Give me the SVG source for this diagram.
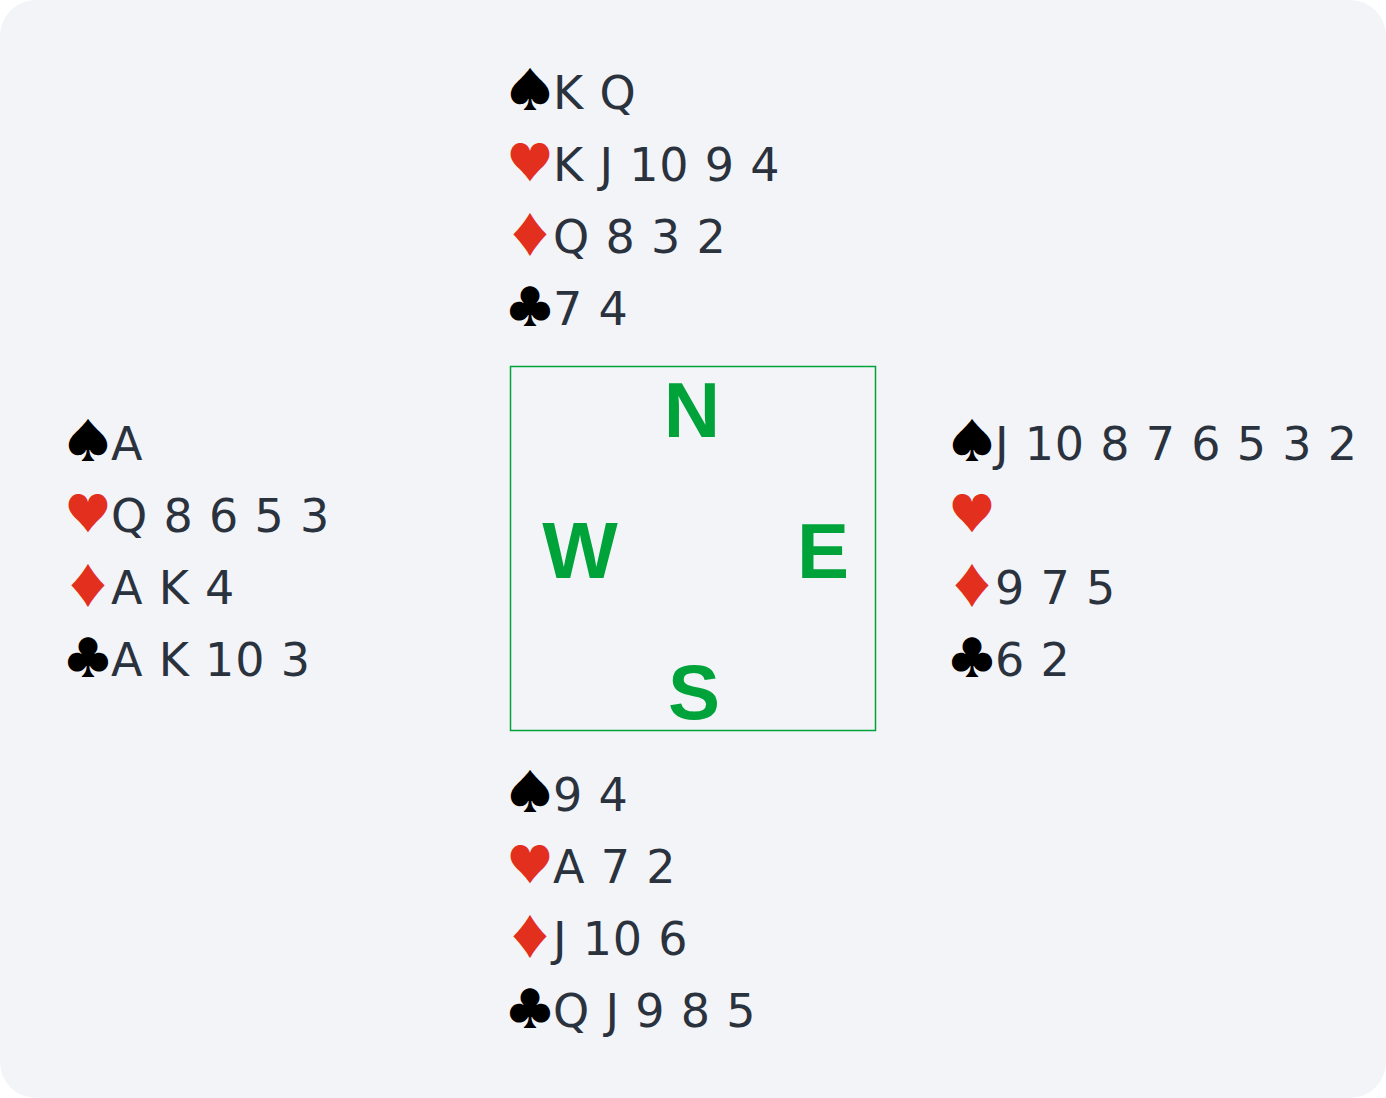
<svg xmlns="http://www.w3.org/2000/svg" width="1386" height="1098" viewBox="0 0 1386 1098">
<style>
.bg{fill:#f3f4f8}
.c{font-family:"DejaVu Sans",sans-serif;font-size:46px;fill:#2a323e;letter-spacing:0.8px}
.s{font-family:"Noto Sans CJK JP","Liberation Sans",sans-serif;font-size:46px;letter-spacing:0}
.blk{fill:#000000}
.red{fill:#e3301e}
.d{font-family:"Liberation Sans",sans-serif;font-weight:bold;font-size:78px;fill:#00a33a;text-anchor:middle}
.box{fill:none;stroke:#00a33a;stroke-width:1.5}
</style>
<rect width="1386" height="1098" fill="#ffffff"/>
<rect class="bg" x="0" y="0" width="1386" height="1098" rx="36" ry="36"/>
<g id="north">
<text class="c" y="109"><tspan class="s blk" x="507" dy="-2">♠</tspan><tspan x="553" dy="2">K Q</tspan></text>
<text class="c" y="181"><tspan class="s red" x="507" dy="-2">♥</tspan><tspan x="553" dy="2">K J 10 9 4</tspan></text>
<text class="c" y="253"><tspan class="s red" x="507" dy="-2">♦</tspan><tspan x="553" dy="2">Q 8 3 2</tspan></text>
<text class="c" y="325"><tspan class="s blk" x="507" dy="-2">♣</tspan><tspan x="553" dy="2">7 4</tspan></text>
</g>
<g id="west">
<text class="c" y="460"><tspan class="s blk" x="65" dy="-2">♠</tspan><tspan x="111" dy="2">A</tspan></text>
<text class="c" y="532"><tspan class="s red" x="65" dy="-2">♥</tspan><tspan x="111" dy="2">Q 8 6 5 3</tspan></text>
<text class="c" y="604"><tspan class="s red" x="65" dy="-2">♦</tspan><tspan x="111" dy="2">A K 4</tspan></text>
<text class="c" y="676"><tspan class="s blk" x="65" dy="-2">♣</tspan><tspan x="111" dy="2">A K 10 3</tspan></text>
</g>
<g id="east">
<text class="c" y="460"><tspan class="s blk" x="949" dy="-2">♠</tspan><tspan x="995" dy="2">J 10 8 7 6 5 3 2</tspan></text>
<text class="c" y="532"><tspan class="s red" x="949" dy="-2">♥</tspan></text>
<text class="c" y="604"><tspan class="s red" x="949" dy="-2">♦</tspan><tspan x="995" dy="2">9 7 5</tspan></text>
<text class="c" y="676"><tspan class="s blk" x="949" dy="-2">♣</tspan><tspan x="995" dy="2">6 2</tspan></text>
</g>
<g id="south">
<text class="c" y="811"><tspan class="s blk" x="507" dy="-2">♠</tspan><tspan x="553" dy="2">9 4</tspan></text>
<text class="c" y="883"><tspan class="s red" x="507" dy="-2">♥</tspan><tspan x="553" dy="2">A 7 2</tspan></text>
<text class="c" y="955"><tspan class="s red" x="507" dy="-2">♦</tspan><tspan x="553" dy="2">J 10 6</tspan></text>
<text class="c" y="1027"><tspan class="s blk" x="507" dy="-2">♣</tspan><tspan x="553" dy="2">Q J 9 8 5</tspan></text>
</g>
<g id="compass">
<rect class="box" x="510.5" y="366.5" width="365" height="364"/>
<text class="d" x="692" y="437">N</text>
<text class="d" x="580" y="578" style="font-size:80px">W</text>
<text class="d" x="823" y="578">E</text>
<text class="d" x="694" y="719">S</text>
</g>
<g id="connectors"></g>
</svg>
